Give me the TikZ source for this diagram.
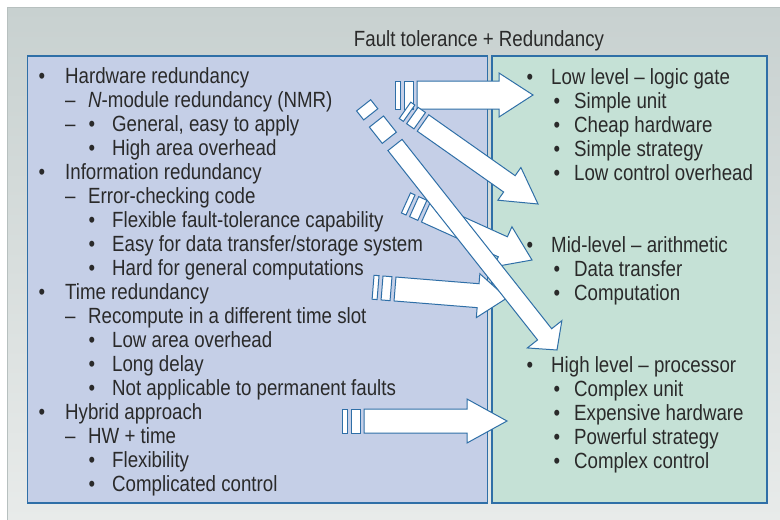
\documentclass[tikz,border=0pt]{standalone}
\usepackage{fontspec}
\setmainfont[FakeStretch=0.85]{Liberation Sans}
\usetikzlibrary{calc}

\definecolor{bgtop}{HTML}{C8D1D0}
\definecolor{bgbot}{HTML}{E8EBEA}
\definecolor{bgedge}{HTML}{B7C0BF}
\definecolor{hwfill}{HTML}{C5CFE7}
\definecolor{lvfill}{HTML}{C5E1D6}
\definecolor{edgeblue}{HTML}{2F6FA7}
\definecolor{ink}{HTML}{2A2A2A}

% Block arrow with two broken pieces behind its tail
% [#1] spread of the tail pieces, #2 start, #3 tip, #4 half shaft, #5 half head, #6 head length
\newcommand{\blockarrow}[6][1]{%
    \coordinate (hb) at ($(#3)!#6!(#2)$);
    \coordinate (ta) at ($(#2)!-#1*4pt!(#3)$);
    \coordinate (tb) at ($(#2)!-#1*13pt!(#3)$);
    \coordinate (tc) at ($(#2)!-#1*17pt!(#3)$);
    \coordinate (td) at ($(#2)!-#1*22pt!(#3)$);
    \draw[fatarrow] ($(ta)!#4!90:(#3)$) -- ($(tb)!#4!90:(#3)$)
        -- ($(tb)!#4!-90:(#3)$) -- ($(ta)!#4!-90:(#3)$) -- cycle;
    \draw[fatarrow] ($(tc)!#4!90:(#3)$) -- ($(td)!#4!90:(#3)$)
        -- ($(td)!#4!-90:(#3)$) -- ($(tc)!#4!-90:(#3)$) -- cycle;
    \draw[fatarrow] ($(#2)!#4!90:(#3)$) -- ($(hb)!#4!-90:(#2)$)
        -- ($(hb)!#5!-90:(#2)$) -- (#3) -- ($(hb)!#5!90:(#2)$)
        -- ($(hb)!#4!90:(#2)$) -- ($(#2)!#4!-90:(#3)$) -- cycle;
}
\newcommand{\mk}[2]{\makebox[#1][l]{#2}}

\begin{document}
\begin{tikzpicture}[
        x=1pt, y=-1pt,
        % the two coloured panels
        panel/.style={
            rectangle,
            draw=edgeblue,
            line width=1.2pt,
            minimum height=447pt,
            inner sep=0pt
        },
        % one line of the lists
        item/.style={
            anchor=base west,
            inner sep=0pt,
            text=ink,
            font=\fontsize{22pt}{24pt}\selectfont
        },
        % white block arrows
        fatarrow/.style={
            draw=edgeblue,
            fill=white,
            line width=1pt,
            line join=miter
        }
    ]
    \useasboundingbox (0,0) rectangle (780,520);

    % --- BACKGROUND ---
    \fill[white] (0,0) rectangle (780,520);
    \shade[top color=bgtop, bottom color=bgbot, draw=bgedge] (7,7) rectangle (781,521);

    % --- TITLE ---
    \node[item, anchor=base] (title) at (479,46) {Fault tolerance + Redundancy};

    % --- THE TWO PANELS ---
    \node[panel, fill=hwfill, minimum width=460pt] (redbox) at (257.5,279.5) {};
    \node[panel, fill=lvfill, minimum width=275pt] (lvlbox) at (629.5,279.5) {};

    % --- LEFT: KINDS OF REDUNDANCY ---
    \node[item] (hw)   at (38.5,83)  {\mk{26.5pt}{\textbullet}Hardware redundancy};
    \node[item] (nmr)  at (65,107)   {\mk{23pt}{–}\textit{N}-module redundancy (NMR)};
    \node[item] (hwa)  at (65,131)   {\mk{23.5pt}{–}\mk{23.5pt}{\textbullet}General, easy to apply};
    \node[item] (hwb)  at (88.5,155) {\mk{23.5pt}{\textbullet}High area overhead};
    \node[item] (inf)  at (38.5,179) {\mk{26.5pt}{\textbullet}Information redundancy};
    \node[item] (ecc)  at (65,203)   {\mk{23pt}{–}Error-checking code};
    \node[item] (infa) at (88.5,227) {\mk{23.5pt}{\textbullet}Flexible fault-tolerance capability};
    \node[item] (infb) at (88.5,251) {\mk{23.5pt}{\textbullet}Easy for data transfer/storage system};
    \node[item] (infc) at (88.5,275) {\mk{23.5pt}{\textbullet}Hard for general computations};
    \node[item] (tim)  at (38.5,299) {\mk{26.5pt}{\textbullet}Time redundancy};
    \node[item] (rec)  at (65,323)   {\mk{23pt}{–}Recompute in a different time slot};
    \node[item] (tima) at (88.5,347) {\mk{23.5pt}{\textbullet}Low area overhead};
    \node[item] (timb) at (88.5,371) {\mk{23.5pt}{\textbullet}Long delay};
    \node[item] (timc) at (88.5,395) {\mk{23.5pt}{\textbullet}Not applicable to permanent faults};
    \node[item] (hyb)  at (38.5,419) {\mk{26.5pt}{\textbullet}Hybrid approach};
    \node[item] (hwt)  at (65,443)   {\mk{23pt}{–}HW + time};
    \node[item] (hyba) at (88.5,467) {\mk{23.5pt}{\textbullet}Flexibility};
    \node[item] (hybb) at (88.5,491) {\mk{23.5pt}{\textbullet}Complicated control};

    % --- RIGHT: LEVELS ---
    \node[item] (low)  at (526.5,84)  {\mk{24.5pt}{\textbullet}Low level – logic gate};
    \node[item] (lowa) at (553.5,108) {\mk{20.5pt}{\textbullet}Simple unit};
    \node[item] (lowb) at (553.5,132) {\mk{20.5pt}{\textbullet}Cheap hardware};
    \node[item] (lowc) at (553.5,156) {\mk{20.5pt}{\textbullet}Simple strategy};
    \node[item] (lowd) at (553.5,180) {\mk{20.5pt}{\textbullet}Low control overhead};
    \node[item] (mid)  at (526.5,252) {\mk{24.5pt}{\textbullet}Mid-level – arithmetic};
    \node[item] (mida) at (553.5,276) {\mk{20.5pt}{\textbullet}Data transfer};
    \node[item] (midb) at (553.5,300) {\mk{20.5pt}{\textbullet}Computation};
    \node[item] (high) at (526.5,372) {\mk{24.5pt}{\textbullet}High level – processor};
    \node[item] (higa) at (553.5,396) {\mk{20.5pt}{\textbullet}Complex unit};
    \node[item] (higb) at (553.5,420) {\mk{20.5pt}{\textbullet}Expensive hardware};
    \node[item] (higc) at (553.5,444) {\mk{20.5pt}{\textbullet}Powerful strategy};
    \node[item] (higd) at (553.5,468) {\mk{20.5pt}{\textbullet}Complex control};

    % --- ARROW ENDS ---
    \coordinate (hwout)  at (417,95);   \coordinate (lowin)  at (533,95);
    \coordinate (hwout2) at (423,123);  \coordinate (lowin2) at (538,204);
    \coordinate (hwout3) at (395,145);  \coordinate (highin) at (557,350);
    \coordinate (infout) at (426,212);  \coordinate (midin)  at (532,260);
    \coordinate (timout) at (395,289);  \coordinate (midin2) at (507,298);
    \coordinate (hybout) at (364,421);  \coordinate (highin2) at (507,421);

    % --- ARROWS ---
    \blockarrow{hwout}{lowin}{14pt}{22pt}{34pt}
    \blockarrow{hwout2}{lowin2}{10pt}{20pt}{35pt}
    \blockarrow{infout}{midin}{11pt}{22pt}{32pt}
    \blockarrow{timout}{midin2}{12pt}{22pt}{29pt}
    \blockarrow{hybout}{highin2}{12pt}{22pt}{40pt}
    \blockarrow[2.3]{hwout3}{highin}{9pt}{22pt}{20pt} % long one on top

\end{tikzpicture}
\end{document}
